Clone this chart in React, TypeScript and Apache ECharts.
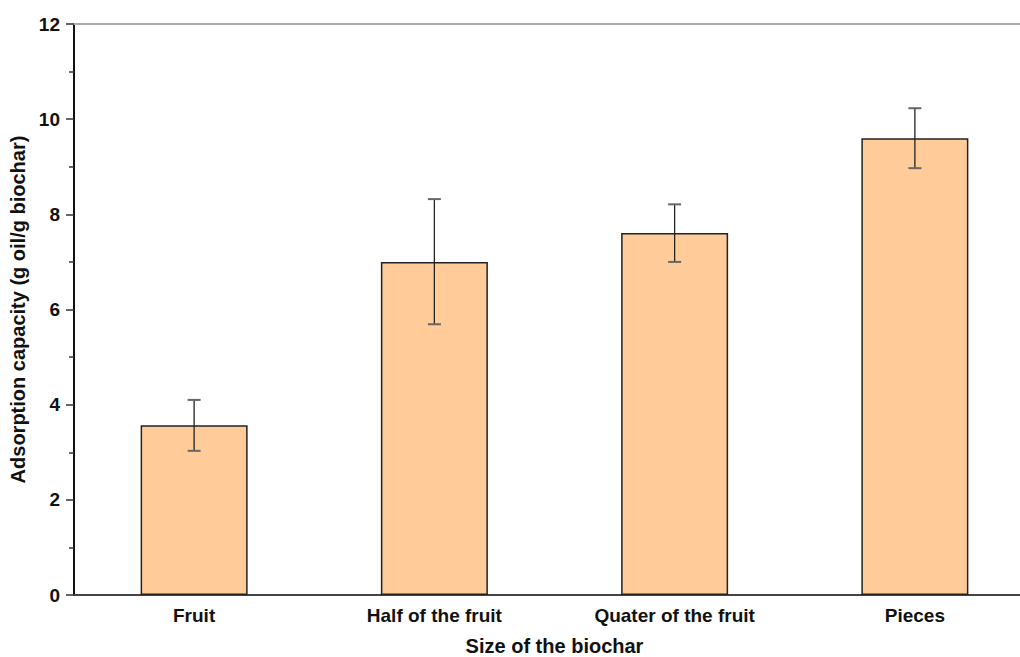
import React, { useEffect, useRef } from "react";
import * as echarts from "echarts";

const categories = ["Fruit", "Half of the fruit", "Quater of the fruit", "Pieces"];
const values = [3.57, 7.0, 7.61, 9.6];
const errLow = [3.03, 5.69, 7.0, 8.97];
const errHigh = [4.1, 8.32, 8.21, 10.23];
const yTicks = [0, 2, 4, 6, 8, 10, 12];

export default function App() {
  const ref = useRef<HTMLDivElement>(null);
  useEffect(() => {
    if (!ref.current) return;
    const chart = echarts.init(ref.current, null, { renderer: "svg" });
    const font = "'Liberation Sans', Arial, sans-serif";
    chart.setOption({
      animation: false,
      backgroundColor: "#ffffff",
      grid: { left: 74, top: 24, bottom: 62, right: 15, containLabel: false, outerBoundsMode: "none" },
      xAxis: [
        {
          type: "category",
          data: categories,
          name: "Size of the biochar",
          nameLocation: "middle",
          nameGap: 41,
          nameTextStyle: { fontFamily: font, fontWeight: "bold", fontSize: 20, lineHeight: 20, color: "#111" },
          axisLine: { lineStyle: { color: "#444", width: 2 } },
          axisTick: { alignWithLabel: true, length: 6, lineStyle: { color: "#222", width: 1.5 } },
          axisLabel: { fontFamily: font, fontWeight: "bold", fontSize: 19, color: "#111", margin: 11 },
        },
        {
          type: "category",
          data: categories,
          position: "top",
          axisLine: { lineStyle: { color: "#aaaaaa", width: 2 } },
          axisTick: { show: false },
          axisLabel: { show: false },
        },
      ],
      yAxis: {
        type: "value",
        min: yTicks[0],
        max: yTicks[yTicks.length - 1],
        interval: 2,
        name: "Adsorption capacity (g oil/g biochar)",
        nameLocation: "middle",
        nameGap: 43,
        nameTextStyle: { fontFamily: font, fontWeight: "bold", fontSize: 20, color: "#111" },
        axisLine: { show: true, lineStyle: { color: "#111", width: 2 } },
        axisTick: { show: true, length: 8, lineStyle: { color: "#333", width: 1.5 } },
        minorTick: { show: true, splitNumber: 2, length: 5, lineStyle: { color: "#333", width: 1.5 } },
        splitLine: { show: false },
        axisLabel: { fontFamily: font, fontWeight: "bold", fontSize: 19, color: "#111", margin: 14 },
      },
      series: [
        {
          type: "bar",
          data: values,
          barWidth: 107,
          itemStyle: { color: "#FFCC99", borderColor: "#222", borderWidth: 1.5 },
        },
        {
          type: "custom",
          data: categories.map((_, i) => [i, errLow[i], errHigh[i]]),
          z: 10,
          renderItem: (params: any, api: any) => {
            const x = api.value(0);
            const lo = api.coord([x, api.value(1)]);
            const hi = api.coord([x, api.value(2)]);
            const half = 6.5;
            return {
              type: "group",
              children: [
                { type: "line", shape: { x1: lo[0], y1: lo[1], x2: hi[0], y2: hi[1] }, style: { stroke: "#222", lineWidth: 1.3 } },
                { type: "line", shape: { x1: hi[0] - half, y1: hi[1], x2: hi[0] + half, y2: hi[1] }, style: { stroke: "#666", lineWidth: 2 } },
                { type: "line", shape: { x1: lo[0] - half, y1: lo[1], x2: lo[0] + half, y2: lo[1] }, style: { stroke: "#666", lineWidth: 2 } },
              ],
            };
          },
        },
      ],
    });
    return () => chart.dispose();
  }, []);
  return (
    <div style={{ position: "fixed", left: 0, top: 0, width: 1020, height: 657, overflow: "hidden", background: "#fff" }}>
      <div ref={ref} style={{ width: 1050, height: 657 }} />
    </div>
  );
}
